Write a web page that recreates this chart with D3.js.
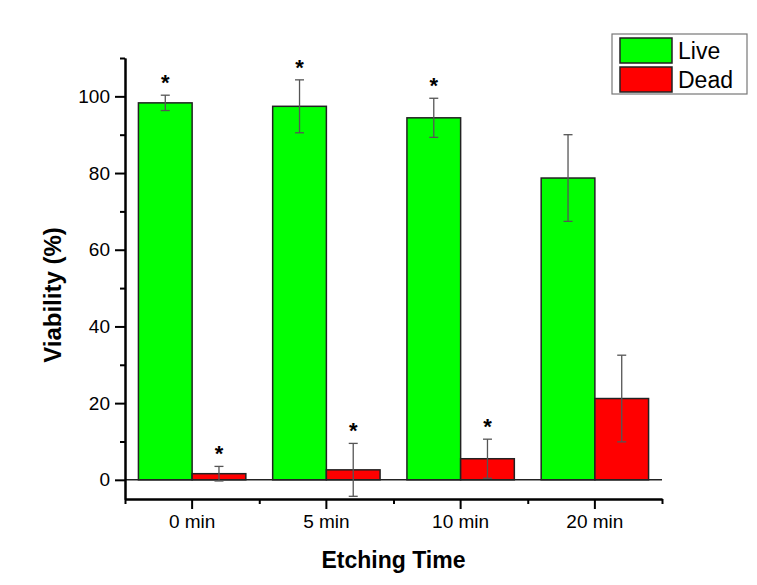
<!DOCTYPE html>
<html>
<head>
<meta charset="utf-8">
<script src="https://cdn.jsdelivr.net/npm/d3@7"></script>
<style>
  body { margin: 0; background: #fff; }
  svg { font-family: "Liberation Sans", Arial, sans-serif; }
</style>
</head>
<body>
<svg width="757" height="585"></svg>
<script>
const categories = ["0 min", "5 min", "10 min", "20 min"];
const series = ["Live", "Dead"];
const liveMean = [98.3, 97.4, 94.4, 78.7];
const liveErr = [2.0, 6.9, 5.1, 11.3];
const deadMean = [1.6, 2.6, 5.5, 21.2];
const deadErr = [1.9, 6.9, 5.1, 11.3];
const liveStar = [true, true, true, false];
const deadStar = [true, true, true, false];
const yMajor = [0, 20, 40, 60, 80, 100];
const yMinor = [10, 30, 50, 70, 90, 110];

const svg = d3.select("svg");
const plot = { left: 125, right: 662, top: 58, bottom: 499 };

const x = d3.scaleBand().domain(categories).range([plot.left, plot.right])
  .paddingInner(0.2).paddingOuter(0.1);
const xs = d3.scaleBand().domain(series).range([0, x.bandwidth()]);
const y = d3.scaleLinear().domain([-5, 110]).range([plot.bottom, plot.top]);
const color = d3.scaleOrdinal().domain(series).range(["#00ff00", "#ff0000"]);

const rows = [];
categories.forEach((c, i) => {
  rows.push({ cat: c, s: "Live", v: liveMean[i], e: liveErr[i], star: liveStar[i] });
  rows.push({ cat: c, s: "Dead", v: deadMean[i], e: deadErr[i], star: deadStar[i] });
});

// Bars
svg.append("g").selectAll("rect")
  .data(rows)
  .enter().append("rect")
  .attr("x", d => x(d.cat) + xs(d.s))
  .attr("y", d => y(d.v))
  .attr("width", xs.bandwidth())
  .attr("height", d => y(0) - y(d.v))
  .attr("fill", d => color(d.s))
  .attr("stroke", "#222")
  .attr("stroke-width", 1.5);

// zero line
svg.append("line")
  .attr("x1", plot.left).attr("x2", plot.right)
  .attr("y1", y(0)).attr("y2", y(0))
  .attr("stroke", "#222").attr("stroke-width", 1.5);

// Error bars
const eb = svg.append("g").attr("stroke", "#555").attr("stroke-width", 1.3);
rows.forEach(d => {
  const cx = x(d.cat) + xs(d.s) + xs.bandwidth() / 2;
  eb.append("line").attr("x1", cx).attr("x2", cx)
    .attr("y1", y(d.v + d.e)).attr("y2", y(d.v - d.e));
  [d.v + d.e, d.v - d.e].forEach(v => {
    eb.append("line").attr("x1", cx - 4.5).attr("x2", cx + 4.5)
      .attr("y1", y(v)).attr("y2", y(v));
  });
});

// Significance marks
svg.append("g").selectAll("text")
  .data(rows.filter(d => d.star))
  .enter().append("text")
  .attr("x", d => x(d.cat) + xs(d.s) + xs.bandwidth() / 2)
  .attr("y", d => y(d.v + d.e) - 5)
  .attr("text-anchor", "middle")
  .style("font-size", "22px")
  .style("font-weight", "bold")
  .text("*");

// Axes
svg.append("g")
  .attr("transform", `translate(${plot.left},0)`)
  .call(d3.axisLeft(y).tickValues(yMajor).tickSize(10).tickSizeOuter(0).tickPadding(5));
svg.append("g")
  .attr("transform", `translate(${plot.left},0)`)
  .call(d3.axisLeft(y).tickValues(yMinor).tickSize(5).tickSizeOuter(0).tickFormat(""));

svg.append("g")
  .attr("transform", `translate(0,${plot.bottom})`)
  .call(d3.axisBottom(x).tickSize(10).tickSizeOuter(0).tickPadding(6));
const xMinor = d3.range(categories.length + 1).map(i => plot.left + i * x.step());
svg.append("g")
  .attr("transform", `translate(0,${plot.bottom})`)
  .call(d3.axisBottom(d3.scaleLinear().domain([plot.left, plot.right]).range([plot.left, plot.right]))
    .tickValues(xMinor).tickSize(5).tickSizeOuter(0).tickFormat(""));

svg.selectAll(".domain, .tick line").attr("stroke", "#000").attr("stroke-width", 2);
svg.selectAll(".tick text").attr("fill", "#000").style("font-size", "19px")
  .style("font-family", "'Liberation Sans', Arial, sans-serif");

// Axis titles
svg.append("text")
  .attr("x", (plot.left + plot.right) / 2)
  .attr("y", 568)
  .attr("text-anchor", "middle")
  .style("font-size", "23px")
  .style("font-weight", "bold")
  .text("Etching Time");

svg.append("text")
  .attr("transform", "translate(61,295) rotate(-90)")
  .attr("text-anchor", "middle")
  .style("font-size", "24px")
  .style("font-weight", "bold")
  .text("Viability (%)");

// Legend
const legend = svg.append("g").attr("transform", "translate(612,34)");
legend.append("rect")
  .attr("width", 135).attr("height", 60)
  .attr("fill", "#fff").attr("stroke", "#777").attr("stroke-width", 1.2);
legend.selectAll(".sw")
  .data(series)
  .enter().append("rect")
  .attr("class", "sw")
  .attr("x", 8)
  .attr("y", (d, i) => 4 + i * 29)
  .attr("width", 52)
  .attr("height", 25)
  .attr("fill", d => color(d))
  .attr("stroke", "#222")
  .attr("stroke-width", 1.5);
legend.selectAll(".lt")
  .data(series)
  .enter().append("text")
  .attr("class", "lt")
  .attr("x", 66)
  .attr("y", (d, i) => 25 + i * 29)
  .style("font-size", "23px")
  .text(d => d);
</script>
</body>
</html>
